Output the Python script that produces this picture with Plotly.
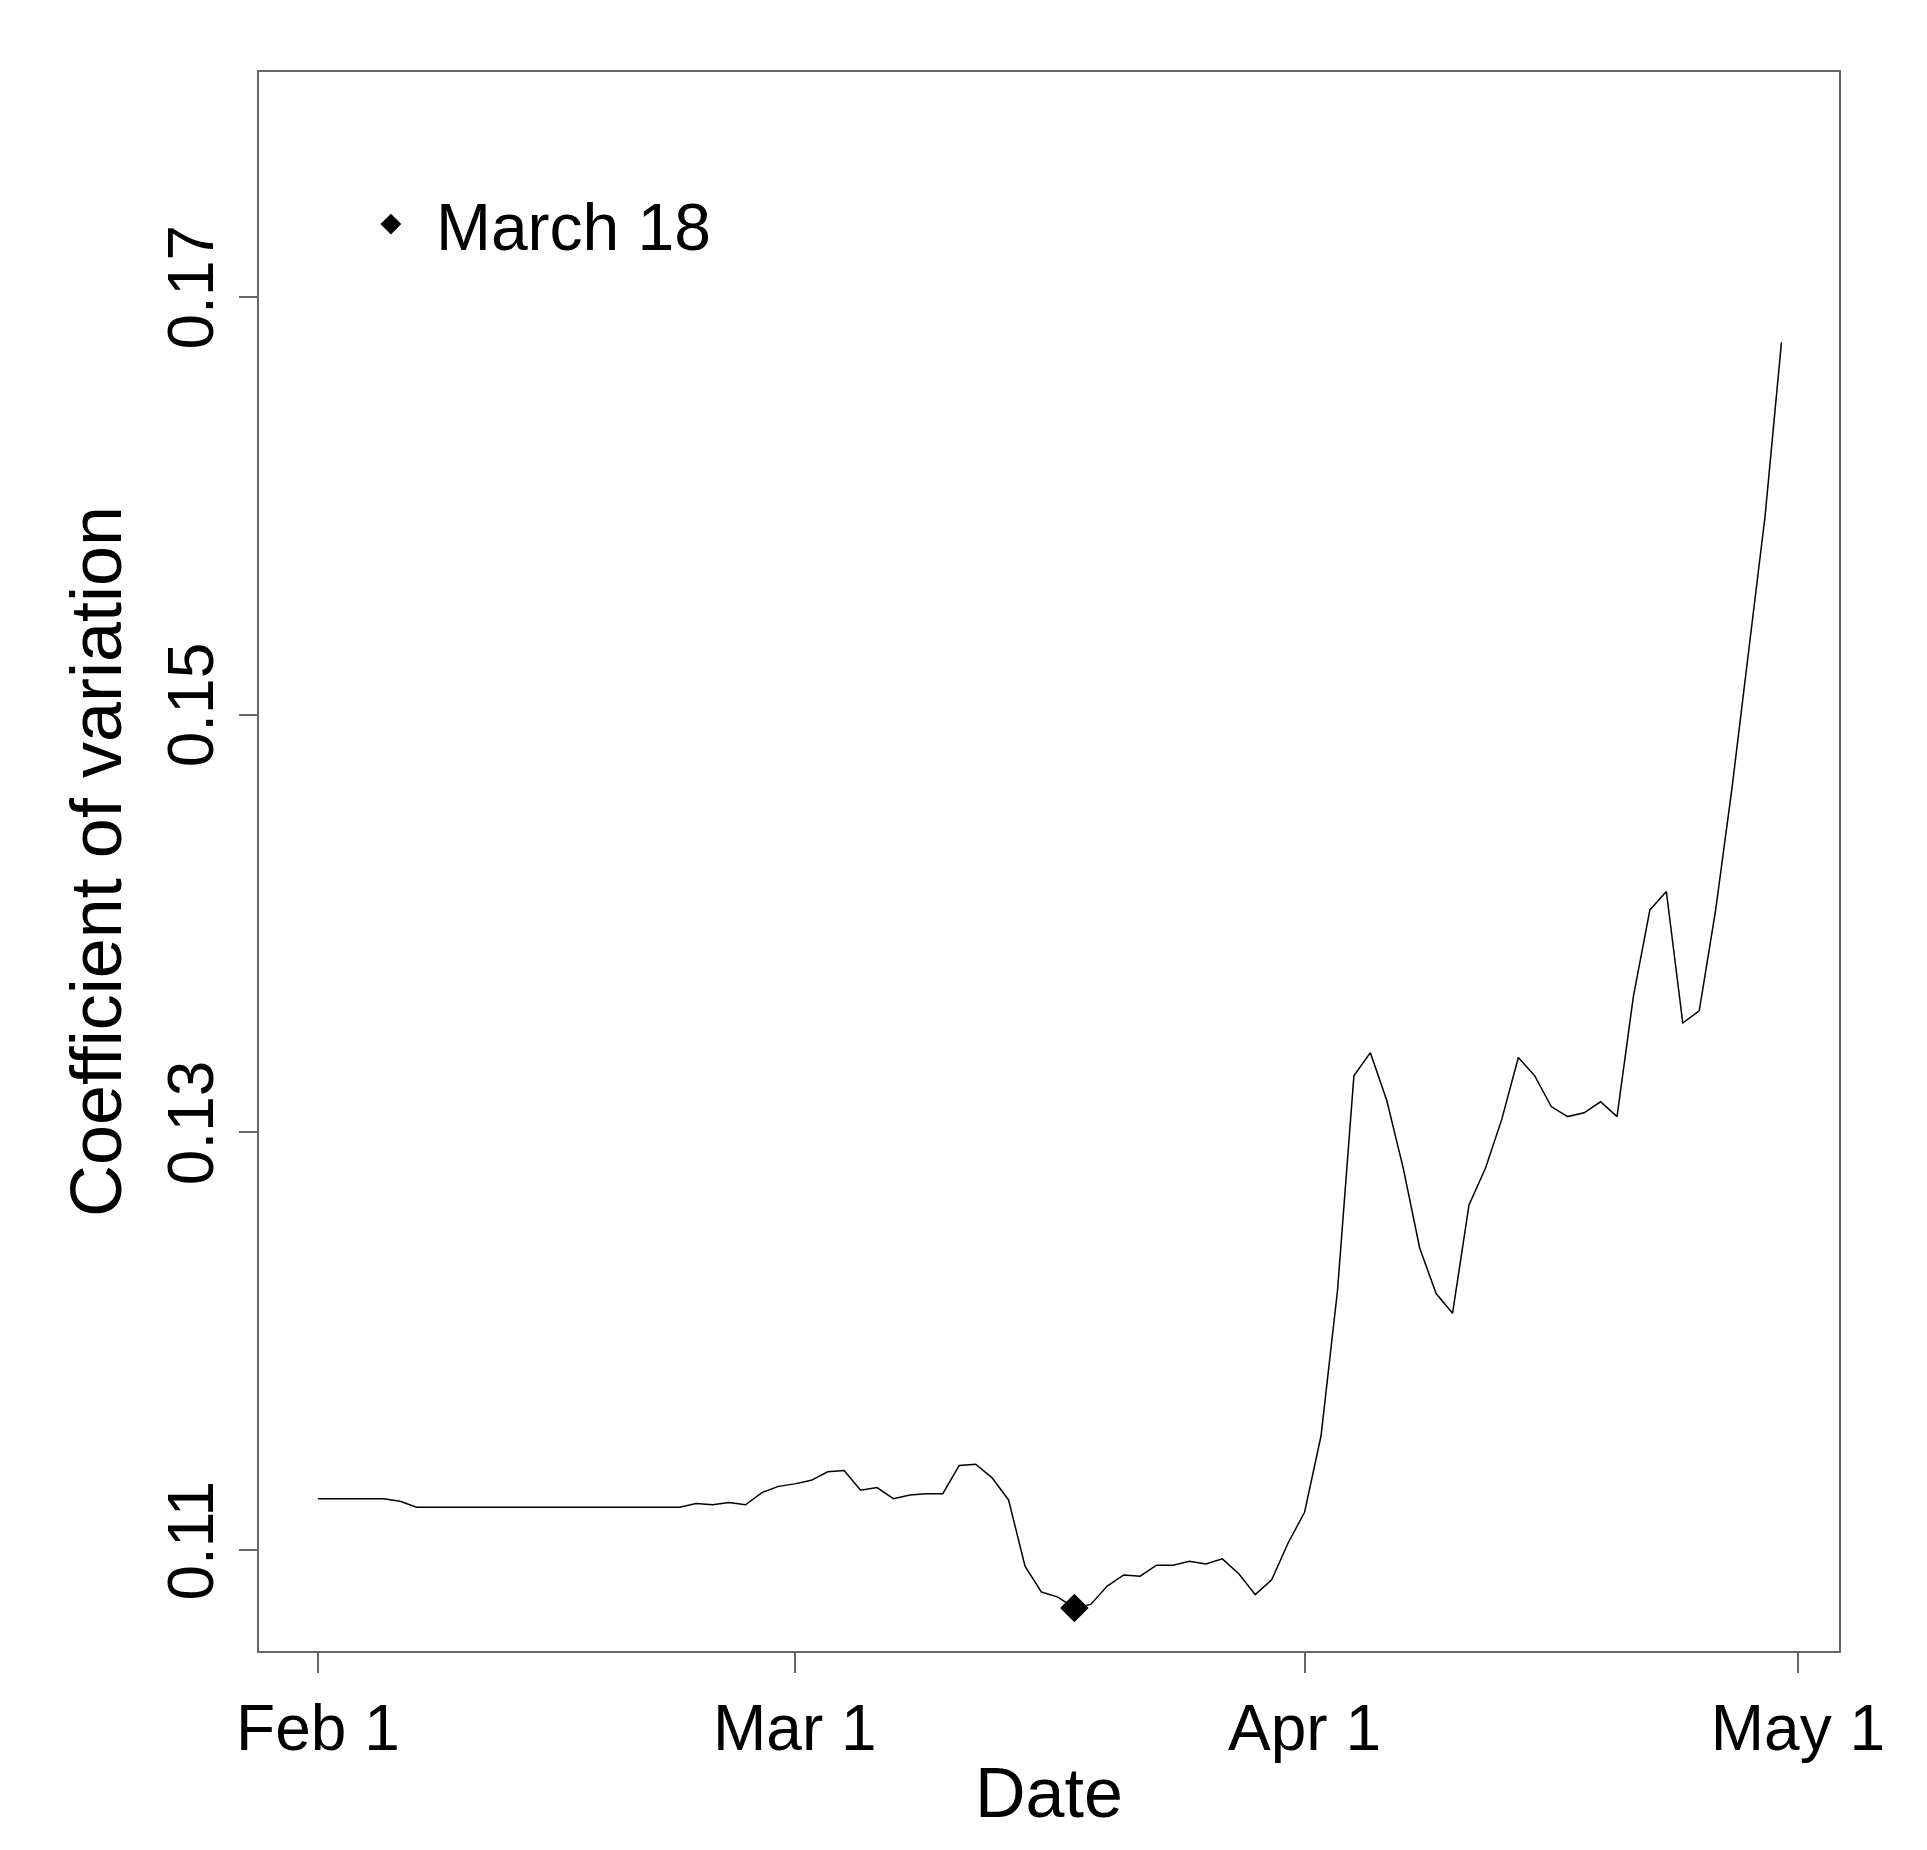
import plotly.graph_objects as go
import pandas as pd

start = "2020-02-01"
cv_values = [0.11247,0.11247,0.11247,0.11247,0.11247,0.11235,0.11206,0.11206,0.11206,0.11206,
 0.11206,0.11206,0.11206,0.11206,0.11206,0.11206,0.11206,0.11206,0.11206,0.11206,
 0.11206,0.11206,0.11206,0.11224,0.11218,0.11229,0.11218,0.11276,0.11306,0.11318,
 0.11335,0.11376,0.11382,0.11288,0.11300,0.11247,0.11265,0.11271,0.11271,0.11406,
 0.11412,0.11347,0.11241,0.10924,0.10800,0.10776,0.10724,0.10741,0.10829,0.10882,
 0.10876,0.10929,0.10929,0.10947,0.10935,0.10959,0.10888,0.10788,0.10859,0.11035,
 0.11182,0.11547,0.12241,0.13271,0.13382,0.13153,0.12829,0.12447,0.12229,0.12135,
 0.12653,0.12829,0.13065,0.13359,0.13271,0.13124,0.13076,0.13094,0.13147,0.13076,
 0.13653,0.14065,0.14153,0.13524,0.13582,0.14065,0.14653,0.15300,0.15947,0.16782]
dates = pd.date_range(start, periods=len(cv_values), freq="D")
marker_date = "2020-03-18"
marker_value = 0.10724

fig = go.Figure()
fig.add_trace(go.Scatter(x=dates, y=cv_values, mode="lines",
                         line=dict(color="black", width=1.5), showlegend=False))
fig.add_trace(go.Scatter(x=[marker_date], y=[marker_value], mode="markers", name="March 18",
                         marker=dict(symbol="diamond", size=22, color="black")))
font = "Liberation Sans, Arial, sans-serif"
fig.update_layout(
    width=1927, height=1850, plot_bgcolor="white", paper_bgcolor="white",
    margin=dict(l=251, r=96, t=64, b=207),
    font=dict(family=font, color="black", size=64),
    legend=dict(x=0.055, y=0.935, xanchor="left", yanchor="top", bgcolor="rgba(0,0,0,0)",
                font=dict(size=66), itemwidth=80),
    xaxis=dict(range=["2020-01-28 10:00", "2020-05-03 12:00"],
               tickvals=["2020-02-01", "2020-03-01", "2020-04-01", "2020-05-01"],
               ticktext=["Feb 1", "Mar 1", "Apr 1", "May 1"],
               showline=True, linecolor="#666", linewidth=2, mirror=True, showgrid=False,
               ticks="outside", ticklen=20, tickcolor="#666", tickwidth=2,
               title=dict(text="Date", font=dict(size=70), standoff=5), zeroline=False),
    yaxis=dict(range=[0.10518, 0.18076], tickvals=[0.11, 0.13, 0.15, 0.17],
               tickformat=".2f", tickangle=-90,
               showline=True, linecolor="#666", linewidth=2, mirror=True, showgrid=False,
               ticks="outside", ticklen=18, tickcolor="#666", tickwidth=2,
               title=dict(text="Coefficient of variation", font=dict(size=72), standoff=10),
               zeroline=False),
)
fig.write_html("out.html")
